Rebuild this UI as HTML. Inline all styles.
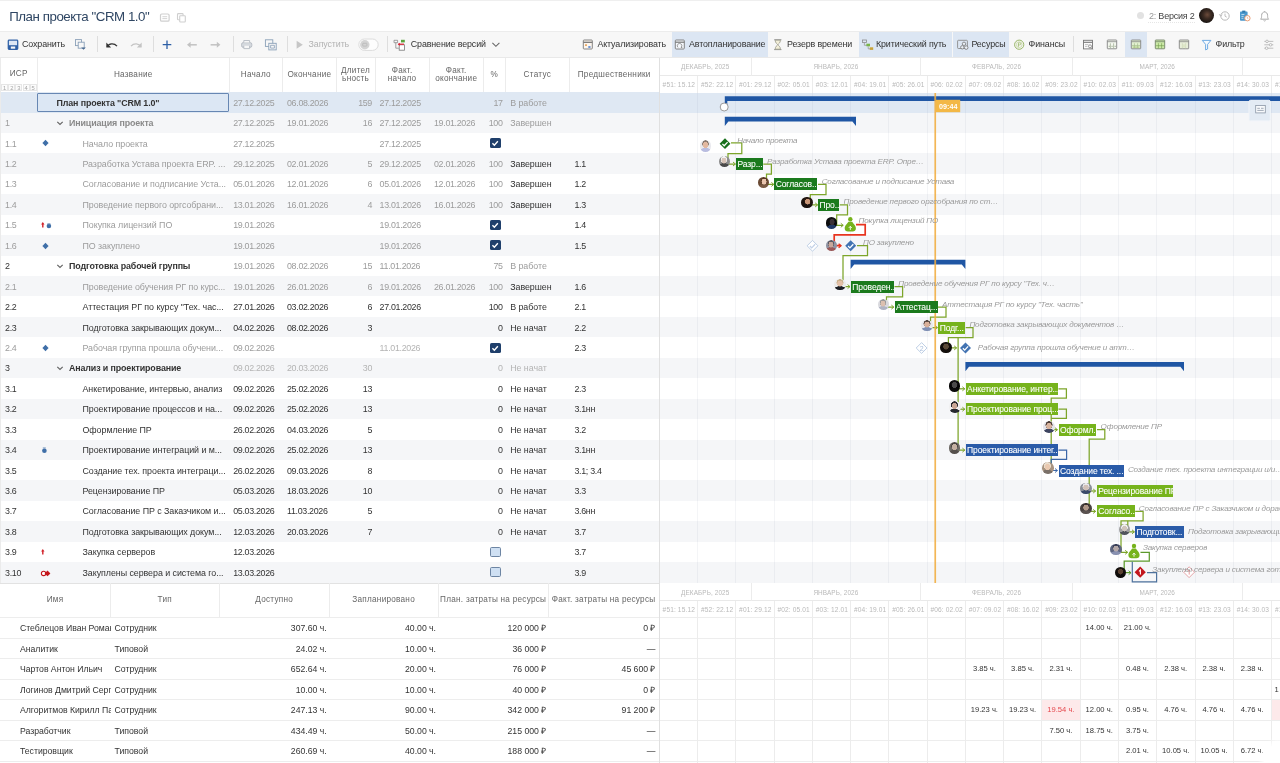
<!DOCTYPE html><html lang="ru"><head><meta charset="utf-8"><title>План проекта "CRM 1.0"</title><style>
*{box-sizing:border-box}
html,body{margin:0;padding:0}
body{width:1280px;height:763px;overflow:hidden;background:#fff;font-family:"Liberation Sans",sans-serif;color:#333;position:relative}
.abs{position:absolute}
.t{position:absolute;white-space:nowrap;line-height:1}
#title{left:9.2px;top:9.8px;font-size:13.3px;letter-spacing:-0.45px;color:#2f4663}
#toolbar{left:0;top:31px;width:1280px;height:26.5px;background:#f7f7f7;border-top:1px solid #ececec;border-bottom:1px solid #e9e9e9}
.tb{position:absolute;white-space:nowrap;font-size:8.9px;line-height:10px;top:39px;color:#333;letter-spacing:-0.12px}
.tbh{position:absolute;top:32px;height:25px;background:#dce6f3}
.sep{position:absolute;top:36px;height:16px;width:1px;background:#dedede}
.hd{position:absolute;font-size:8.2px;line-height:8.3px;color:#666;text-align:center;letter-spacing:0.25px;white-space:nowrap}
.vl{position:absolute;width:1px;background:#ececec}
.row{position:absolute;left:0;width:1280px;height:20.5px}
.c{position:absolute;white-space:nowrap;font-size:8.9px;line-height:10px;letter-spacing:-0.05px}
.d{letter-spacing:-0.32px}
.p{letter-spacing:-0.3px}
.g{color:#999}
.k{color:#333}
.b{font-weight:700;letter-spacing:-0.12px}
.r{text-align:right}
.bar{position:absolute;height:12.1px;color:#fff;font-size:8.5px;line-height:12.3px;white-space:nowrap;overflow:hidden;padding-left:1.5px;letter-spacing:-0.1px;-webkit-text-stroke:0.08px #fff}
.lbl{position:absolute;white-space:nowrap;font-style:italic;font-size:8.1px;line-height:9px;color:#9a9a9a;letter-spacing:-0.18px;max-width:157px;overflow:hidden;text-overflow:ellipsis}
.wk{position:absolute;font-size:6.6px;line-height:8px;color:#b9b9b9;white-space:nowrap;letter-spacing:0.12px}
.mo{position:absolute;font-size:6.4px;line-height:8px;color:#b9b9b9;white-space:nowrap;text-align:center;letter-spacing:0.1px}
.av{position:absolute;width:11.6px;height:11.6px;border-radius:50%}
.rc{position:absolute;white-space:nowrap;font-size:8.7px;line-height:10px;color:#333;letter-spacing:-0.02px}
.rv{position:absolute;white-space:nowrap;font-size:7.6px;line-height:9px;color:#333;text-align:center;width:38px}
.cb{position:absolute;width:10.5px;height:10.2px;border-radius:1.6px}
</style></head><body>
<div class="abs" style="left:0;top:0;width:1280px;height:1px;background:#efefef"></div>
<div class="t" id="title">План проекта "CRM 1.0"</div>
<svg class="abs" style="left:158px;top:11.2px" width="32" height="14" viewBox="0 0 32 14">
<rect x="2.5" y="3" width="8.6" height="7.2" rx="1.3" fill="none" stroke="#cfcfcf" stroke-width="1.2"/><path d="M4.4 5.7h4.8M4.4 7.6h4.8" stroke="#cfcfcf" stroke-width="0.9"/>
<rect x="19.5" y="2.6" width="5.6" height="6.2" rx="0.8" fill="none" stroke="#cfcfcf" stroke-width="1.1"/><rect x="21.7" y="4.8" width="5.6" height="6.2" rx="0.8" fill="#fff" stroke="#cfcfcf" stroke-width="1.1"/></svg>
<div class="abs" style="left:1137px;top:12.2px;width:7px;height:7px;border-radius:50%;background:#e2e2e2"></div>
<div class="t" style="left:1149px;top:11.5px;font-size:9px;letter-spacing:-0.22px;color:#999">2: <span style="color:#444">Версия 2</span></div>
<div class="abs" style="left:1148px;top:22px;width:47px;height:0;border-top:1px dotted #e6e6e6"></div>
<div class="abs" style="left:1198.8px;top:8.2px;width:15px;height:15px;border-radius:50%;background:radial-gradient(circle at 55% 45%,#6b4a3a 0,#3a2a22 35%,#15110f 75%)"></div>
<svg class="abs" style="left:1216px;top:8px" width="60" height="16" viewBox="0 0 60 16">
<circle cx="9" cy="8" r="4.2" fill="none" stroke="#b9b9b9" stroke-width="1"/><path d="M9 5.6V8.2l1.8 1" fill="none" stroke="#b9b9b9" stroke-width="0.9"/><path d="M3.2 6.2l1.4 1.8 1.7-1.3" fill="none" stroke="#b9b9b9" stroke-width="0.9"/>
<rect x="24" y="3.6" width="7.6" height="9.2" rx="0.8" fill="#4a97cc"/><rect x="26.2" y="2.6" width="3.2" height="2" fill="#2f78ad"/><path d="M25.4 6.5h3M25.4 8.4h2.2M25.4 10.3h2" stroke="#cfe6f6" stroke-width="0.8"/><circle cx="31.4" cy="10.2" r="2.7" fill="#fff" stroke="#e8956a" stroke-width="0.9"/><path d="M31.4 8.8v1.5l1 .5" stroke="#e8956a" stroke-width="0.6" fill="none"/>
<path d="M44.6 11.2c1-1 1-2.2 1-3.8 0-2 1.3-3.4 3-3.4s3 1.400 3 3.400c0 1.600 0 2.800 1 3.800z" fill="none" stroke="#aaa" stroke-width="1"/><path d="M47.6 12.4c.2.800 1.800.8 2 0" stroke="#aaa" stroke-width="0.9" fill="none"/><path d="M48.600 3.900V3" stroke="#aaa" stroke-width="0.9"/></svg>
<div class="abs" id="toolbar"></div>
<div class="tbh" style="left:671.6px;width:96.5px"></div>
<div class="tbh" style="left:859px;width:92.9px"></div>
<div class="tbh" style="left:953.4px;width:55.3px"></div>
<div class="tbh" style="left:1125.4px;width:21.9px"></div>
<div class="sep" style="left:96.5px"></div>
<div class="sep" style="left:152.5px"></div>
<div class="sep" style="left:232.5px"></div>
<div class="sep" style="left:287.2px"></div>
<div class="sep" style="left:386.8px"></div>
<div class="sep" style="left:1073.4px"></div>
<div class="tb" style="left:22px">Сохранить</div>
<div class="tb" style="left:308.6px;color:#b3b3b3">Запустить</div>
<div class="tb" style="left:410.8px">Сравнение версий</div>
<div class="tb" style="left:597.4px">Актуализировать</div>
<div class="tb" style="left:689px">Автопланирование</div>
<div class="tb" style="left:787px">Резерв времени</div>
<div class="tb" style="left:876px">Критический путь</div>
<div class="tb" style="left:971.4px">Ресурсы</div>
<div class="tb" style="left:1028.6px">Финансы</div>
<div class="tb" style="left:1215.6px">Фильтр</div>
<svg class="abs" style="left:0;top:31px" width="1280" height="27" viewBox="0 31 1280 27">
<!-- save -->
<rect x="8.300" y="40.100" width="9.400" height="9.200" rx="0.800" fill="#dde7f5" stroke="#3464a8" stroke-width="1.300"/><rect x="8.300" y="45.200" width="9.400" height="4.100" fill="#2d5fa6"/><rect x="10.800" y="46.500" width="4.400" height="2.200" fill="#f7f7f7"/>
<!-- copy+ -->
<rect x="75.500" y="39.600" width="6" height="6" fill="none" stroke="#8aa0b8" stroke-width="0.900"/><rect x="78.200" y="42.200" width="6" height="6" fill="#f7f7f7" stroke="#8aa0b8" stroke-width="0.900"/><path d="M83.500 49.800l2.300-2.400h-4.600z" fill="#48688f"/>
<!-- undo -->
<path d="M107.200 46.700c1.600-3.400 6.800-4 9.800-.6" fill="none" stroke="#333" stroke-width="1.300"/><path d="M106.300 42.600v4.800h4.800z" fill="#333"/>
<!-- redo -->
<path d="M140.800 46.700c-1.600-3.400-6.800-4-9.800-.6" fill="none" stroke="#c4c4c4" stroke-width="1.300"/><path d="M141.700 42.600v4.800h-4.800z" fill="#c4c4c4"/>
<!-- plus -->
<path d="M162.700 44.700h8.600M167 40.400v8.600" stroke="#2d5fa6" stroke-width="1.300"/>
<!-- arrows -->
<path d="M188.800 44.800h8" stroke="#c2c2c2" stroke-width="1.500"/><path d="M187 44.800l3.600-3v6z" fill="#c2c2c2"/>
<path d="M210.600 44.800h8" stroke="#c2c2c2" stroke-width="1.500"/><path d="M220.400 44.800l-3.600-3v6z" fill="#c2c2c2"/>
<!-- print -->
<rect x="241.600" y="42.600" width="10.200" height="4.800" rx="1.600" fill="#d5d9de" stroke="#b4bac2" stroke-width="0.900"/><path d="M243.800 42.400v-1.900h5.800v1.900M243.800 45.800v2.800h5.800v-2.800" fill="#f7f7f7" stroke="#b4bac2" stroke-width="0.900"/>
<!-- windows -->
<rect x="265.400" y="39.800" width="7.400" height="6.600" fill="none" stroke="#8aa0b8" stroke-width="0.900"/><rect x="268.800" y="43.300" width="7.400" height="6.600" fill="#f7f7f7" stroke="#8aa0b8" stroke-width="0.900"/><path d="M270.600 45.300h3.800v2.800h-3.800z" fill="none" stroke="#8aa0b8" stroke-width="0.800"/>
<!-- play -->
<path d="M296.600 40.700l6.200 4-6.200 4z" fill="#c6c6c6"/>
<!-- toggle -->
<rect x="358.800" y="39" width="19.400" height="11.400" rx="5.700" fill="#fdfdfd" stroke="#dcdcdc" stroke-width="1"/><circle cx="364.800" cy="44.700" r="4.700" fill="#d4d4d4"/><rect x="362.700" y="43.300" width="4.200" height="2.800" rx="0.600" fill="none" stroke="#b5b5b5" stroke-width="0.700"/>
<!-- compare -->
<path d="M394 40.300h3.600v2.400h-3.600zM395.800 42.700v5.500h3" fill="none" stroke="#8a8a8a" stroke-width="0.800"/><rect x="399.200" y="44.800" width="5.200" height="5.400" fill="#fff" stroke="#777" stroke-width="0.800"/><rect x="401" y="39.800" width="3.800" height="2.600" fill="#5aa33c"/><path d="M398.400 44.200h5.600" stroke="#d23" stroke-width="1.200"/><path d="M397.700 44.200l2.100-1.500v3z" fill="#d23"/>
<!-- chevron -->
<path d="M492.400 42.900l3.500 3.400 3.500-3.400" fill="none" stroke="#666" stroke-width="1.100"/>
<!-- aktualizirovat -->
<rect x="583.300" y="40" width="9" height="9" rx="0.800" fill="#fdf6ee" stroke="#777" stroke-width="0.900"/><path d="M583.300 42.300h9" stroke="#777" stroke-width="1.300"/><rect x="585" y="44.300" width="2" height="1.600" fill="#e8a45a"/><rect x="588.300" y="46.200" width="2.200" height="1.600" fill="#4b7fd0"/>
<!-- autoplan -->
<rect x="675.300" y="40" width="9" height="9" rx="0.800" fill="#f4f7fb" stroke="#777" stroke-width="0.900"/><path d="M675.300 42.200h9" stroke="#777" stroke-width="1.200"/><path d="M678 47.400a2.300 2.300 0 1 1 3.600-.6" fill="none" stroke="#888" stroke-width="0.800"/><path d="M682.600 47.700l-1.800.2.300-1.800z" fill="#888"/>
<!-- hourglass -->
<path d="M774.200 39.800h7.200M774.200 49.600h7.200" stroke="#8a8a8a" stroke-width="1"/><path d="M775.200 40.200c0 3 2 3.400 2.600 4.500-.6 1.100-2.600 1.500-2.600 4.500h5.200c0-3-2-3.400-2.600-4.500.600-1.100 2.600-1.500 2.600-4.500z" fill="#f3efd8" stroke="#9a9a8a" stroke-width="0.800"/>
<!-- critical path -->
<rect x="862.600" y="40" width="3.800" height="2.400" fill="none" stroke="#8a8a8a" stroke-width="0.800"/><path d="M864.400 42.600v2.700h2.600" fill="none" stroke="#999" stroke-width="0.800"/><rect x="866.400" y="43.700" width="3.600" height="2.600" fill="#7ab648"/><path d="M868.200 46.400v2.400h2.200" fill="none" stroke="#999" stroke-width="0.800"/><rect x="869.800" y="47.300" width="3.400" height="2.600" fill="#c9a43a"/>
<!-- resources -->
<rect x="957.600" y="40.300" width="9.800" height="8.200" rx="0.800" fill="none" stroke="#8a8a8a" stroke-width="0.900"/><circle cx="964" cy="43.800" r="1.700" fill="#eaf0f7" stroke="#777" stroke-width="0.800"/><circle cx="962.300" cy="47.300" r="1.700" fill="#eaf0f7" stroke="#777" stroke-width="0.800"/><circle cx="966.200" cy="47.600" r="1.800" fill="#eaf0f7" stroke="#777" stroke-width="0.800"/>
<!-- finance -->
<circle cx="1019.200" cy="44.700" r="4.600" fill="#f6f8ee" stroke="#8fae5a" stroke-width="0.900"/><circle cx="1019.200" cy="44.700" r="2.900" fill="none" stroke="#b9c99a" stroke-width="0.600"/><path d="M1018.500 46.800v-4h1.300a1 1 0 0 1 0 2.100h-2" fill="none" stroke="#8fae5a" stroke-width="0.600"/>
<!-- view icons -->
<rect x="1083.500" y="40.300" width="9" height="8.600" fill="#fbfbfb" stroke="#777" stroke-width="0.900"/><path d="M1083.500 42.300h9" stroke="#777" stroke-width="1.100"/><path d="M1085 44.600h3.400M1085 46.400h2.400" stroke="#aaa" stroke-width="0.700"/><circle cx="1090" cy="46.300" r="1.500" fill="none" stroke="#777" stroke-width="0.700"/><path d="M1091.100 47.500l1.700 1.800" stroke="#777" stroke-width="0.800"/>
<rect x="1107.300" y="40" width="9.400" height="8.800" rx="0.600" fill="#f4f8ef" stroke="#858585" stroke-width="0.900"/><path d="M1107.300 41.700h9.400" stroke="#858585" stroke-width="0.800"/><path d="M1110.400 43.300v5M1113.600 43.300v5" stroke="#9aa88c" stroke-width="0.700"/><path d="M1108.800 46.300h0.800M1111.600 46.300h0.900M1114.700 46.300h0.900" stroke="#7a8a6c" stroke-width="1"/>
<rect x="1131.300" y="40" width="9.400" height="8.800" rx="0.600" fill="#e2f0cf" stroke="#858585" stroke-width="0.900"/><path d="M1131.300 41.700h9.400" stroke="#858585" stroke-width="0.800"/><path d="M1134.400 43.300v5M1137.600 43.300v5M1131.800 45.600h8.400" stroke="#a5bb8c" stroke-width="0.700"/><path d="M1132.600 47.100h6.800" stroke="#a9c77f" stroke-width="1"/>
<rect x="1155.300" y="40" width="9.400" height="8.800" rx="0.600" fill="#cdeaa8" stroke="#74856a" stroke-width="0.900"/><path d="M1155.300 41.700h9.400" stroke="#74856a" stroke-width="0.800"/><path d="M1158.400 43.200v5.200M1161.600 43.200v5.200M1155.800 45.700h8.400" stroke="#6f9a4a" stroke-width="0.600"/>
<rect x="1179.300" y="40" width="9.400" height="8.800" rx="0.600" fill="#e8eed9" stroke="#858585" stroke-width="0.900"/><path d="M1179.300 41.700h9.400" stroke="#858585" stroke-width="0.800"/><path d="M1182.400 43.300v5M1185.600 43.300v5" stroke="#cbd5b4" stroke-width="0.700"/><rect x="1182.800" y="44.400" width="2.600" height="3" fill="#dde6c6"/>
<!-- filter -->
<path d="M1202.300 40.400h8.600l-3.300 4v4.600l-2 .9v-5.500z" fill="#f6fafe" stroke="#62a3e0" stroke-width="0.900" stroke-linejoin="round"/>
<!-- settings -->
<path d="M1264.300 41.400h9M1264.300 44.800h9M1264.300 48.200h9" stroke="#b0b0b0" stroke-width="0.800"/><circle cx="1267" cy="41.400" r="1.300" fill="#f7f7f7" stroke="#aaa" stroke-width="0.700"/><circle cx="1270.600" cy="44.800" r="1.300" fill="#f7f7f7" stroke="#aaa" stroke-width="0.700"/><circle cx="1266.600" cy="48.200" r="1.300" fill="#f7f7f7" stroke="#aaa" stroke-width="0.700"/>
</svg>
<div class="abs" style="left:0;top:57.5px;width:659.5px;height:35.5px;background:#fff"></div>
<div class="vl" style="left:37.0px;top:58px;height:35px"></div>
<div class="vl" style="left:228.5px;top:58px;height:35px"></div>
<div class="vl" style="left:282.1px;top:58px;height:35px"></div>
<div class="vl" style="left:335.7px;top:58px;height:35px"></div>
<div class="vl" style="left:374.5px;top:58px;height:35px"></div>
<div class="vl" style="left:428.7px;top:58px;height:35px"></div>
<div class="vl" style="left:482.7px;top:58px;height:35px"></div>
<div class="vl" style="left:504.9px;top:58px;height:35px"></div>
<div class="vl" style="left:568.7px;top:58px;height:35px"></div>
<div class="vl" style="left:658.7px;top:58px;height:35px"></div>
<div class="hd" style="left:0px;width:37.5px;top:70.2px">ИСР</div>
<div class="hd" style="left:37.5px;width:191.5px;top:71px">Название</div>
<div class="hd" style="left:229px;width:53.6px;top:71px">Начало</div>
<div class="hd" style="left:282.6px;width:53.6px;top:71px">Окончание</div>
<div class="hd" style="left:336.2px;width:38.8px;top:66.8px">Длител<br>ьность</div>
<div class="hd" style="left:375px;width:54.2px;top:66.8px">Факт.<br>начало</div>
<div class="hd" style="left:429.2px;width:54.0px;top:66.8px">Факт.<br>окончание</div>
<div class="hd" style="left:483.2px;width:22.2px;top:71px">%</div>
<div class="hd" style="left:505.4px;width:63.8px;top:71px">Статус</div>
<div class="hd" style="left:569.2px;width:90.0px;top:71px">Предшественники</div>
<div class="abs" style="left:1.2px;top:83.7px;width:7.1px;height:7.6px;border:0.8px solid #e6e6e6;background:#fcfcfc;font-size:5.8px;line-height:6.2px;text-align:center;color:#a5a5a5">1</div>
<div class="abs" style="left:8.3px;top:83.7px;width:7.1px;height:7.6px;border:0.8px solid #e6e6e6;background:#fcfcfc;font-size:5.8px;line-height:6.2px;text-align:center;color:#a5a5a5">2</div>
<div class="abs" style="left:15.4px;top:83.7px;width:7.1px;height:7.6px;border:0.8px solid #e6e6e6;background:#fcfcfc;font-size:5.8px;line-height:6.2px;text-align:center;color:#a5a5a5">3</div>
<div class="abs" style="left:22.5px;top:83.7px;width:7.1px;height:7.6px;border:0.8px solid #e6e6e6;background:#fcfcfc;font-size:5.8px;line-height:6.2px;text-align:center;color:#a5a5a5">4</div>
<div class="abs" style="left:29.6px;top:83.7px;width:7.1px;height:7.6px;border:0.8px solid #e6e6e6;background:#fcfcfc;font-size:5.8px;line-height:6.2px;text-align:center;color:#a5a5a5">5</div>
<div class="row" style="top:92.1px;background:#dfe8f3"></div>
<div class="row" style="top:112.5px;background:#f5f6f8"></div>
<div class="row" style="top:133.0px;background:#fff"></div>
<div class="row" style="top:153.4px;background:#f5f6f8"></div>
<div class="row" style="top:173.8px;background:#fff"></div>
<div class="row" style="top:194.3px;background:#f5f6f8"></div>
<div class="row" style="top:214.7px;background:#fff"></div>
<div class="row" style="top:235.1px;background:#f5f6f8"></div>
<div class="row" style="top:255.6px;background:#fff"></div>
<div class="row" style="top:276.0px;background:#f5f6f8"></div>
<div class="row" style="top:296.4px;background:#fff"></div>
<div class="row" style="top:316.9px;background:#f5f6f8"></div>
<div class="row" style="top:337.3px;background:#fff"></div>
<div class="row" style="top:357.8px;background:#f5f6f8"></div>
<div class="row" style="top:378.2px;background:#fff"></div>
<div class="row" style="top:398.6px;background:#f5f6f8"></div>
<div class="row" style="top:419.1px;background:#fff"></div>
<div class="row" style="top:439.5px;background:#f5f6f8"></div>
<div class="row" style="top:459.9px;background:#fff"></div>
<div class="row" style="top:480.4px;background:#f5f6f8"></div>
<div class="row" style="top:500.8px;background:#fff"></div>
<div class="row" style="top:521.2px;background:#f5f6f8"></div>
<div class="row" style="top:541.7px;background:#fff"></div>
<div class="row" style="top:562.1px;background:#f5f6f8"></div>
<div class="abs" style="left:37px;top:92.6px;width:192px;height:19.6px;border:1px solid #6787b3;background:#dce7f4;border-radius:1px"></div>
<div class="c b" style="left:56.5px;top:97.7px;color:#333;">План проекта "CRM 1.0"</div>
<div class="c d" style="left:233.2px;top:97.7px;color:#9c9c9c;">27.12.2025</div>
<div class="c d" style="left:287.0px;top:97.7px;color:#9c9c9c;">06.08.2026</div>
<div class="c d" style="right:908.0px;top:97.7px;color:#9c9c9c;">159</div>
<div class="c d" style="left:379.6px;top:97.7px;color:#9c9c9c;">27.12.2025</div>
<div class="c d" style="right:777.4px;top:97.7px;color:#9c9c9c;">17</div>
<div class="c " style="left:510.2px;top:97.7px;color:#9c9c9c;">В работе</div>
<div class="c p" style="left:5.0px;top:118.1px;color:#9c9c9c;">1</div>
<div class="c b" style="left:69.0px;top:118.1px;color:#8a8a8a;">Инициация проекта</div>
<svg class="abs" style="left:56px;top:119.5px" width="8" height="7" viewBox="0 0 8 7"><path d="M1.300 1.800l2.700 2.700 2.700-2.700" fill="none" stroke="#666" stroke-width="1.200"/></svg>
<div class="c d" style="left:233.2px;top:118.1px;color:#9c9c9c;">27.12.2025</div>
<div class="c d" style="left:287.0px;top:118.1px;color:#9c9c9c;">19.01.2026</div>
<div class="c d" style="right:908.0px;top:118.1px;color:#9c9c9c;">16</div>
<div class="c d" style="left:379.6px;top:118.1px;color:#9c9c9c;">27.12.2025</div>
<div class="c d" style="left:434.0px;top:118.1px;color:#9c9c9c;">19.01.2026</div>
<div class="c d" style="right:777.4px;top:118.1px;color:#9c9c9c;">100</div>
<div class="c " style="left:510.2px;top:118.1px;color:#9c9c9c;">Завершен</div>
<div class="c p" style="left:5.0px;top:138.6px;color:#9c9c9c;">1.1</div>
<div class="c " style="left:82.5px;top:138.6px;color:#9c9c9c;">Начало проекта</div>
<svg class="abs" style="left:41px;top:139.4px" width="9" height="8" viewBox="0 0 9 8"><path d="M4.500 0.800l3.100 3.200-3.100 3.200-3.100-3.200z" fill="#3f6fa8"/></svg>
<div class="c d" style="left:233.2px;top:138.6px;color:#9c9c9c;">27.12.2025</div>
<div class="c d" style="left:379.6px;top:138.6px;color:#9c9c9c;">27.12.2025</div>
<div class="cb" style="left:490.2px;top:138.2px;background:#1f3f6b"></div>
<svg class="abs" style="left:490.2px;top:138.2px" width="10.2" height="10.2" viewBox="0 0 9.6 9.6"><path d="M2.300 5l1.800 1.800 3.300-3.800" fill="none" stroke="#fff" stroke-width="1.300"/></svg>
<div class="c p" style="left:5.0px;top:159.0px;color:#9c9c9c;">1.2</div>
<div class="c " style="left:82.5px;top:159.0px;color:#9c9c9c;">Разработка Устава проекта ERP. ...</div>
<div class="c d" style="left:233.2px;top:159.0px;color:#9c9c9c;">29.12.2025</div>
<div class="c d" style="left:287.0px;top:159.0px;color:#9c9c9c;">02.01.2026</div>
<div class="c d" style="right:908.0px;top:159.0px;color:#9c9c9c;">5</div>
<div class="c d" style="left:379.6px;top:159.0px;color:#9c9c9c;">29.12.2025</div>
<div class="c d" style="left:434.0px;top:159.0px;color:#9c9c9c;">02.01.2026</div>
<div class="c d" style="right:777.4px;top:159.0px;color:#9c9c9c;">100</div>
<div class="c " style="left:510.2px;top:159.0px;color:#333;">Завершен</div>
<div class="c p" style="left:574.4px;top:159.0px;color:#333;">1.1</div>
<div class="c p" style="left:5.0px;top:179.4px;color:#9c9c9c;">1.3</div>
<div class="c " style="left:82.5px;top:179.4px;color:#9c9c9c;">Согласование и подписание Уста...</div>
<div class="c d" style="left:233.2px;top:179.4px;color:#9c9c9c;">05.01.2026</div>
<div class="c d" style="left:287.0px;top:179.4px;color:#9c9c9c;">12.01.2026</div>
<div class="c d" style="right:908.0px;top:179.4px;color:#9c9c9c;">6</div>
<div class="c d" style="left:379.6px;top:179.4px;color:#9c9c9c;">05.01.2026</div>
<div class="c d" style="left:434.0px;top:179.4px;color:#9c9c9c;">12.01.2026</div>
<div class="c d" style="right:777.4px;top:179.4px;color:#9c9c9c;">100</div>
<div class="c " style="left:510.2px;top:179.4px;color:#333;">Завершен</div>
<div class="c p" style="left:574.4px;top:179.4px;color:#333;">1.2</div>
<div class="c p" style="left:5.0px;top:199.9px;color:#9c9c9c;">1.4</div>
<div class="c " style="left:82.5px;top:199.9px;color:#9c9c9c;">Проведение первого оргсобрани...</div>
<div class="c d" style="left:233.2px;top:199.9px;color:#9c9c9c;">13.01.2026</div>
<div class="c d" style="left:287.0px;top:199.9px;color:#9c9c9c;">16.01.2026</div>
<div class="c d" style="right:908.0px;top:199.9px;color:#9c9c9c;">4</div>
<div class="c d" style="left:379.6px;top:199.9px;color:#9c9c9c;">13.01.2026</div>
<div class="c d" style="left:434.0px;top:199.9px;color:#9c9c9c;">16.01.2026</div>
<div class="c d" style="right:777.4px;top:199.9px;color:#9c9c9c;">100</div>
<div class="c " style="left:510.2px;top:199.9px;color:#333;">Завершен</div>
<div class="c p" style="left:574.4px;top:199.9px;color:#333;">1.3</div>
<div class="c p" style="left:5.0px;top:220.3px;color:#9c9c9c;">1.5</div>
<div class="c " style="left:82.5px;top:220.3px;color:#9c9c9c;">Покупка лицензий ПО</div>
<svg class="abs" style="left:40px;top:221.1px" width="12" height="9" viewBox="0 0 12 9"><path d="M2.800 1l1.700 2.400h-1v3h-1.400v-3h-1z" fill="#d2232a"/><circle cx="8.900" cy="5" r="2.300" fill="#3f6fa8"/><rect x="7.400" y="2" width="3" height="1.200" fill="#9db4d0"/></svg>
<div class="c d" style="left:233.2px;top:220.3px;color:#9c9c9c;">19.01.2026</div>
<div class="c d" style="left:379.6px;top:220.3px;color:#9c9c9c;">19.01.2026</div>
<div class="cb" style="left:490.2px;top:219.9px;background:#1f3f6b"></div>
<svg class="abs" style="left:490.2px;top:219.9px" width="10.2" height="10.2" viewBox="0 0 9.6 9.6"><path d="M2.300 5l1.800 1.800 3.300-3.800" fill="none" stroke="#fff" stroke-width="1.300"/></svg>
<div class="c p" style="left:574.4px;top:220.3px;color:#333;">1.4</div>
<div class="c p" style="left:5.0px;top:240.7px;color:#9c9c9c;">1.6</div>
<div class="c " style="left:82.5px;top:240.7px;color:#9c9c9c;">ПО закуплено</div>
<svg class="abs" style="left:41px;top:241.5px" width="9" height="8" viewBox="0 0 9 8"><path d="M4.500 0.800l3.100 3.200-3.100 3.200-3.100-3.200z" fill="#3f6fa8"/></svg>
<div class="c d" style="left:233.2px;top:240.7px;color:#9c9c9c;">19.01.2026</div>
<div class="c d" style="left:379.6px;top:240.7px;color:#9c9c9c;">19.01.2026</div>
<div class="cb" style="left:490.2px;top:240.3px;background:#1f3f6b"></div>
<svg class="abs" style="left:490.2px;top:240.3px" width="10.2" height="10.2" viewBox="0 0 9.6 9.6"><path d="M2.300 5l1.800 1.800 3.300-3.800" fill="none" stroke="#fff" stroke-width="1.300"/></svg>
<div class="c p" style="left:574.4px;top:240.7px;color:#333;">1.5</div>
<div class="c p" style="left:5.0px;top:261.2px;color:#333;">2</div>
<div class="c b" style="left:69.0px;top:261.2px;color:#333;">Подготовка рабочей группы</div>
<svg class="abs" style="left:56px;top:262.6px" width="8" height="7" viewBox="0 0 8 7"><path d="M1.300 1.800l2.700 2.700 2.700-2.700" fill="none" stroke="#666" stroke-width="1.200"/></svg>
<div class="c d" style="left:233.2px;top:261.2px;color:#9c9c9c;">19.01.2026</div>
<div class="c d" style="left:287.0px;top:261.2px;color:#9c9c9c;">08.02.2026</div>
<div class="c d" style="right:908.0px;top:261.2px;color:#9c9c9c;">15</div>
<div class="c d" style="left:379.6px;top:261.2px;color:#9c9c9c;">11.01.2026</div>
<div class="c d" style="right:777.4px;top:261.2px;color:#9c9c9c;">75</div>
<div class="c " style="left:510.2px;top:261.2px;color:#9c9c9c;">В работе</div>
<div class="c p" style="left:5.0px;top:281.6px;color:#9c9c9c;">2.1</div>
<div class="c " style="left:82.5px;top:281.6px;color:#9c9c9c;">Проведение обучения РГ по курс...</div>
<div class="c d" style="left:233.2px;top:281.6px;color:#9c9c9c;">19.01.2026</div>
<div class="c d" style="left:287.0px;top:281.6px;color:#9c9c9c;">26.01.2026</div>
<div class="c d" style="right:908.0px;top:281.6px;color:#9c9c9c;">6</div>
<div class="c d" style="left:379.6px;top:281.6px;color:#9c9c9c;">19.01.2026</div>
<div class="c d" style="left:434.0px;top:281.6px;color:#9c9c9c;">26.01.2026</div>
<div class="c d" style="right:777.4px;top:281.6px;color:#9c9c9c;">100</div>
<div class="c " style="left:510.2px;top:281.6px;color:#333;">Завершен</div>
<div class="c p" style="left:574.4px;top:281.6px;color:#333;">1.6</div>
<div class="c p" style="left:5.0px;top:302.1px;color:#333;">2.2</div>
<div class="c " style="left:82.5px;top:302.1px;color:#333;">Аттестация РГ по курсу "Тех. час...</div>
<div class="c d" style="left:233.2px;top:302.1px;color:#333;">27.01.2026</div>
<div class="c d" style="left:287.0px;top:302.1px;color:#333;">03.02.2026</div>
<div class="c d" style="right:908.0px;top:302.1px;color:#333;">6</div>
<div class="c d" style="left:379.6px;top:302.1px;color:#333;">27.01.2026</div>
<div class="c d" style="right:777.4px;top:302.1px;color:#333;">100</div>
<div class="c " style="left:510.2px;top:302.1px;color:#333;">В работе</div>
<div class="c p" style="left:574.4px;top:302.1px;color:#333;">2.1</div>
<div class="c p" style="left:5.0px;top:322.5px;color:#333;">2.3</div>
<div class="c " style="left:82.5px;top:322.5px;color:#333;">Подготовка закрывающих докум...</div>
<div class="c d" style="left:233.2px;top:322.5px;color:#333;">04.02.2026</div>
<div class="c d" style="left:287.0px;top:322.5px;color:#333;">08.02.2026</div>
<div class="c d" style="right:908.0px;top:322.5px;color:#333;">3</div>
<div class="c d" style="right:777.4px;top:322.5px;color:#333;">0</div>
<div class="c " style="left:510.2px;top:322.5px;color:#333;">Не начат</div>
<div class="c p" style="left:574.4px;top:322.5px;color:#333;">2.2</div>
<div class="c p" style="left:5.0px;top:342.9px;color:#9c9c9c;">2.4</div>
<div class="c " style="left:82.5px;top:342.9px;color:#9c9c9c;">Рабочая группа прошла обучени...</div>
<svg class="abs" style="left:41px;top:343.7px" width="9" height="8" viewBox="0 0 9 8"><path d="M4.500 0.800l3.100 3.200-3.100 3.200-3.100-3.200z" fill="#3f6fa8"/></svg>
<div class="c d" style="left:233.2px;top:342.9px;color:#9c9c9c;">09.02.2026</div>
<div class="c d" style="left:379.6px;top:342.9px;color:#b4b4b4;">11.01.2026</div>
<div class="cb" style="left:490.2px;top:342.5px;background:#1f3f6b"></div>
<svg class="abs" style="left:490.2px;top:342.5px" width="10.2" height="10.2" viewBox="0 0 9.6 9.6"><path d="M2.300 5l1.800 1.800 3.300-3.800" fill="none" stroke="#fff" stroke-width="1.300"/></svg>
<div class="c p" style="left:574.4px;top:342.9px;color:#333;">2.3</div>
<div class="c p" style="left:5.0px;top:363.4px;color:#333;">3</div>
<div class="c b" style="left:69.0px;top:363.4px;color:#333;">Анализ и проектирование</div>
<svg class="abs" style="left:56px;top:364.8px" width="8" height="7" viewBox="0 0 8 7"><path d="M1.300 1.800l2.700 2.700 2.700-2.700" fill="none" stroke="#666" stroke-width="1.200"/></svg>
<div class="c d" style="left:233.2px;top:363.4px;color:#b4b4b4;">09.02.2026</div>
<div class="c d" style="left:287.0px;top:363.4px;color:#b4b4b4;">20.03.2026</div>
<div class="c d" style="right:908.0px;top:363.4px;color:#b4b4b4;">30</div>
<div class="c d" style="right:777.4px;top:363.4px;color:#b4b4b4;">0</div>
<div class="c " style="left:510.2px;top:363.4px;color:#b4b4b4;">Не начат</div>
<div class="c p" style="left:5.0px;top:383.8px;color:#333;">3.1</div>
<div class="c " style="left:82.5px;top:383.8px;color:#333;">Анкетирование, интервью, анализ</div>
<div class="c d" style="left:233.2px;top:383.8px;color:#333;">09.02.2026</div>
<div class="c d" style="left:287.0px;top:383.8px;color:#333;">25.02.2026</div>
<div class="c d" style="right:908.0px;top:383.8px;color:#333;">13</div>
<div class="c d" style="right:777.4px;top:383.8px;color:#333;">0</div>
<div class="c " style="left:510.2px;top:383.8px;color:#333;">Не начат</div>
<div class="c p" style="left:574.4px;top:383.8px;color:#333;">2.3</div>
<div class="c p" style="left:5.0px;top:404.2px;color:#333;">3.2</div>
<div class="c " style="left:82.5px;top:404.2px;color:#333;">Проектирование процессов и на...</div>
<div class="c d" style="left:233.2px;top:404.2px;color:#333;">09.02.2026</div>
<div class="c d" style="left:287.0px;top:404.2px;color:#333;">25.02.2026</div>
<div class="c d" style="right:908.0px;top:404.2px;color:#333;">13</div>
<div class="c d" style="right:777.4px;top:404.2px;color:#333;">0</div>
<div class="c " style="left:510.2px;top:404.2px;color:#333;">Не начат</div>
<div class="c p" style="left:574.4px;top:404.2px;color:#333;">3.1нн</div>
<div class="c p" style="left:5.0px;top:424.7px;color:#333;">3.3</div>
<div class="c " style="left:82.5px;top:424.7px;color:#333;">Оформление ПР</div>
<div class="c d" style="left:233.2px;top:424.7px;color:#333;">26.02.2026</div>
<div class="c d" style="left:287.0px;top:424.7px;color:#333;">04.03.2026</div>
<div class="c d" style="right:908.0px;top:424.7px;color:#333;">5</div>
<div class="c d" style="right:777.4px;top:424.7px;color:#333;">0</div>
<div class="c " style="left:510.2px;top:424.7px;color:#333;">Не начат</div>
<div class="c p" style="left:574.4px;top:424.7px;color:#333;">3.2</div>
<div class="c p" style="left:5.0px;top:445.1px;color:#333;">3.4</div>
<div class="c " style="left:82.5px;top:445.1px;color:#333;">Проектирование интеграций и м...</div>
<svg class="abs" style="left:40px;top:445.9px" width="9" height="9" viewBox="0 0 9 9"><rect x="2.800" y="1.200" width="3" height="1.400" fill="#9db4d0"/><circle cx="4.400" cy="4.800" r="2.300" fill="#3f6fa8"/></svg>
<div class="c d" style="left:233.2px;top:445.1px;color:#333;">09.02.2026</div>
<div class="c d" style="left:287.0px;top:445.1px;color:#333;">25.02.2026</div>
<div class="c d" style="right:908.0px;top:445.1px;color:#333;">13</div>
<div class="c d" style="right:777.4px;top:445.1px;color:#333;">0</div>
<div class="c " style="left:510.2px;top:445.1px;color:#333;">Не начат</div>
<div class="c p" style="left:574.4px;top:445.1px;color:#333;">3.1нн</div>
<div class="c p" style="left:5.0px;top:465.5px;color:#333;">3.5</div>
<div class="c " style="left:82.5px;top:465.5px;color:#333;">Создание тех. проекта интеграци...</div>
<div class="c d" style="left:233.2px;top:465.5px;color:#333;">26.02.2026</div>
<div class="c d" style="left:287.0px;top:465.5px;color:#333;">09.03.2026</div>
<div class="c d" style="right:908.0px;top:465.5px;color:#333;">8</div>
<div class="c d" style="right:777.4px;top:465.5px;color:#333;">0</div>
<div class="c " style="left:510.2px;top:465.5px;color:#333;">Не начат</div>
<div class="c p" style="left:574.4px;top:465.5px;color:#333;">3.1; 3.4</div>
<div class="c p" style="left:5.0px;top:486.0px;color:#333;">3.6</div>
<div class="c " style="left:82.5px;top:486.0px;color:#333;">Рецензирование ПР</div>
<div class="c d" style="left:233.2px;top:486.0px;color:#333;">05.03.2026</div>
<div class="c d" style="left:287.0px;top:486.0px;color:#333;">18.03.2026</div>
<div class="c d" style="right:908.0px;top:486.0px;color:#333;">10</div>
<div class="c d" style="right:777.4px;top:486.0px;color:#333;">0</div>
<div class="c " style="left:510.2px;top:486.0px;color:#333;">Не начат</div>
<div class="c p" style="left:574.4px;top:486.0px;color:#333;">3.3</div>
<div class="c p" style="left:5.0px;top:506.4px;color:#333;">3.7</div>
<div class="c " style="left:82.5px;top:506.4px;color:#333;">Согласование ПР с Заказчиком и...</div>
<div class="c d" style="left:233.2px;top:506.4px;color:#333;">05.03.2026</div>
<div class="c d" style="left:287.0px;top:506.4px;color:#333;">11.03.2026</div>
<div class="c d" style="right:908.0px;top:506.4px;color:#333;">5</div>
<div class="c d" style="right:777.4px;top:506.4px;color:#333;">0</div>
<div class="c " style="left:510.2px;top:506.4px;color:#333;">Не начат</div>
<div class="c p" style="left:574.4px;top:506.4px;color:#333;">3.6нн</div>
<div class="c p" style="left:5.0px;top:526.8px;color:#333;">3.8</div>
<div class="c " style="left:82.5px;top:526.8px;color:#333;">Подготовка закрывающих докум...</div>
<div class="c d" style="left:233.2px;top:526.8px;color:#333;">12.03.2026</div>
<div class="c d" style="left:287.0px;top:526.8px;color:#333;">20.03.2026</div>
<div class="c d" style="right:908.0px;top:526.8px;color:#333;">7</div>
<div class="c d" style="right:777.4px;top:526.8px;color:#333;">0</div>
<div class="c " style="left:510.2px;top:526.8px;color:#333;">Не начат</div>
<div class="c p" style="left:574.4px;top:526.8px;color:#333;">3.7</div>
<div class="c p" style="left:5.0px;top:547.3px;color:#333;">3.9</div>
<div class="c " style="left:82.5px;top:547.3px;color:#333;">Закупка серверов</div>
<svg class="abs" style="left:40px;top:548.1px" width="12" height="9" viewBox="0 0 12 9"><path d="M2.800 1l1.700 2.400h-1v3h-1.400v-3h-1z" fill="#d2232a"/></svg>
<div class="c d" style="left:233.2px;top:547.3px;color:#333;">12.03.2026</div>
<div class="cb" style="left:490.2px;top:546.9px;background:#cfe0f3;border:1px solid #6d85a3"></div>
<div class="c p" style="left:574.4px;top:547.3px;color:#333;">3.7</div>
<div class="c p" style="left:5.0px;top:567.7px;color:#333;">3.10</div>
<div class="c " style="left:82.5px;top:567.7px;color:#333;">Закуплены сервера и система го...</div>
<svg class="abs" style="left:40px;top:568.5px" width="12" height="9" viewBox="0 0 12 9"><circle cx="3.600" cy="4.400" r="2.200" fill="#fff" stroke="#c4161c" stroke-width="1.100"/><path d="M7.500 1.500l2.900 2.900-2.900 2.900-2.900-2.900z" fill="#c4161c"/></svg>
<div class="c d" style="left:233.2px;top:567.7px;color:#333;">13.03.2026</div>
<div class="cb" style="left:490.2px;top:567.3px;background:#cfe0f3;border:1px solid #6d85a3"></div>
<div class="c p" style="left:574.4px;top:567.7px;color:#333;">3.9</div>
<div class="vl" style="left:659px;top:57.5px;height:706px;background:#e3e3e3"></div>
<div class="vl" style="left:0px;top:57.5px;height:706px;background:#ebebeb"></div>
<div class="abs" style="left:659.5px;top:57.5px;width:621px;height:35.5px;background:#fff"></div>
<div class="abs" style="left:659.5px;top:75.0px;width:621px;height:1px;background:#e9e9e9"></div>
<div class="mo" style="left:659.2px;width:92.1px;top:63.3px">ДЕКАБРЬ, 2025</div>
<div class="vl" style="left:750.8px;top:57.5px;height:18px"></div>
<div class="mo" style="left:751.3px;width:169.2px;top:63.3px">ЯНВАРЬ, 2026</div>
<div class="vl" style="left:920.0px;top:57.5px;height:18px"></div>
<div class="mo" style="left:920.5px;width:152.0px;top:63.3px">ФЕВРАЛЬ, 2026</div>
<div class="vl" style="left:1072.0px;top:57.5px;height:18px"></div>
<div class="mo" style="left:1072.5px;width:169.5px;top:63.3px">МАРТ, 2026</div>
<div class="vl" style="left:1241.5px;top:57.5px;height:18px"></div>
<div class="wk" style="left:662.6px;top:80.5px">#51: 15.12</div>
<div class="vl" style="left:697.0px;top:75.5px;height:17.5px"></div>
<div class="wk" style="left:700.9px;top:80.5px">#52: 22.12</div>
<div class="vl" style="left:735.2px;top:75.5px;height:17.5px"></div>
<div class="wk" style="left:739.1px;top:80.5px">#01: 29.12</div>
<div class="vl" style="left:773.5px;top:75.5px;height:17.5px"></div>
<div class="wk" style="left:777.4px;top:80.5px">#02: 05.01</div>
<div class="vl" style="left:811.8px;top:75.5px;height:17.5px"></div>
<div class="wk" style="left:815.7px;top:80.5px">#03: 12.01</div>
<div class="vl" style="left:850.1px;top:75.5px;height:17.5px"></div>
<div class="wk" style="left:854.0px;top:80.5px">#04: 19.01</div>
<div class="vl" style="left:888.3px;top:75.5px;height:17.5px"></div>
<div class="wk" style="left:892.2px;top:80.5px">#05: 26.01</div>
<div class="vl" style="left:926.6px;top:75.5px;height:17.5px"></div>
<div class="wk" style="left:930.5px;top:80.5px">#06: 02.02</div>
<div class="vl" style="left:964.9px;top:75.5px;height:17.5px"></div>
<div class="wk" style="left:968.8px;top:80.5px">#07: 09.02</div>
<div class="vl" style="left:1003.1px;top:75.5px;height:17.5px"></div>
<div class="wk" style="left:1007.0px;top:80.5px">#08: 16.02</div>
<div class="vl" style="left:1041.4px;top:75.5px;height:17.5px"></div>
<div class="wk" style="left:1045.3px;top:80.5px">#09: 23.02</div>
<div class="vl" style="left:1079.7px;top:75.5px;height:17.5px"></div>
<div class="wk" style="left:1083.6px;top:80.5px">#10: 02.03</div>
<div class="vl" style="left:1117.9px;top:75.5px;height:17.5px"></div>
<div class="wk" style="left:1121.8px;top:80.5px">#11: 09.03</div>
<div class="vl" style="left:1156.2px;top:75.5px;height:17.5px"></div>
<div class="wk" style="left:1160.1px;top:80.5px">#12: 16.03</div>
<div class="vl" style="left:1194.5px;top:75.5px;height:17.5px"></div>
<div class="wk" style="left:1198.4px;top:80.5px">#13: 23.03</div>
<div class="vl" style="left:1232.8px;top:75.5px;height:17.5px"></div>
<div class="wk" style="left:1236.7px;top:80.5px">#14: 30.03</div>
<div class="vl" style="left:1271.0px;top:75.5px;height:17.5px"></div>
<div class="wk" style="left:1274.9px;top:80.5px">#15: 06.04</div>
<div class="vl" style="left:697.0px;top:93px;height:490px;background:rgba(120,130,150,0.08)"></div>
<div class="vl" style="left:735.2px;top:93px;height:490px;background:rgba(120,130,150,0.08)"></div>
<div class="vl" style="left:773.5px;top:93px;height:490px;background:rgba(120,130,150,0.08)"></div>
<div class="vl" style="left:811.8px;top:93px;height:490px;background:rgba(120,130,150,0.08)"></div>
<div class="vl" style="left:850.1px;top:93px;height:490px;background:rgba(120,130,150,0.08)"></div>
<div class="vl" style="left:888.3px;top:93px;height:490px;background:rgba(120,130,150,0.08)"></div>
<div class="vl" style="left:926.6px;top:93px;height:490px;background:rgba(120,130,150,0.08)"></div>
<div class="vl" style="left:964.9px;top:93px;height:490px;background:rgba(120,130,150,0.08)"></div>
<div class="vl" style="left:1003.1px;top:93px;height:490px;background:rgba(120,130,150,0.08)"></div>
<div class="vl" style="left:1041.4px;top:93px;height:490px;background:rgba(120,130,150,0.08)"></div>
<div class="vl" style="left:1079.7px;top:93px;height:490px;background:rgba(120,130,150,0.08)"></div>
<div class="vl" style="left:1117.9px;top:93px;height:490px;background:rgba(120,130,150,0.08)"></div>
<div class="vl" style="left:1156.2px;top:93px;height:490px;background:rgba(120,130,150,0.08)"></div>
<div class="vl" style="left:1194.5px;top:93px;height:490px;background:rgba(120,130,150,0.08)"></div>
<div class="vl" style="left:1232.8px;top:93px;height:490px;background:rgba(120,130,150,0.08)"></div>
<div class="vl" style="left:1271.0px;top:93px;height:490px;background:rgba(120,130,150,0.08)"></div>

<svg class="abs" style="left:0;top:0" width="1280" height="763" viewBox="0 0 1280 763"><path d="M724.8 96.3H1281V100.9H727.3V106.3H724.8z" fill="#1f56a4"/>
<path d="M724.8 116.7H856.0V125.9L852.4 121.4H728.4L724.8 125.9z" fill="#1f56a4"/>
<path d="M850.6 259.8H965.4V269.0L961.8 264.5H854.2L850.6 269.0z" fill="#1f56a4"/>
<path d="M965.4 362.0H1184.0V371.2L1180.4 366.7H969.0L965.4 371.2z" fill="#1f56a4"/>
<circle cx="724.2" cy="107" r="4" fill="#fff" stroke="#9a9a9a" stroke-width="1"/>
<path d="M731.0 142.8 L741.8 142.8 L741.8 153.6 L728.0 153.6 L728.0 164.0 L735.4 164.0" fill="none" stroke="#7da52a" stroke-width="1.25" stroke-linejoin="miter"/>
<path d="M733.0 162.0L735.4 164.0L733.0 166.0" fill="none" stroke="#7da52a" stroke-width="1.00"/>
<path d="M763.3 164.0 L771.4 164.0 L771.4 174.0 L766.5 174.0 L766.5 184.4 L773.8 184.4" fill="none" stroke="#7da52a" stroke-width="1.25" stroke-linejoin="miter"/>
<path d="M771.4 182.4L773.8 184.4L771.4 186.4" fill="none" stroke="#7da52a" stroke-width="1.00"/>
<path d="M818.0 184.4 L826.0 184.4 L826.0 194.5 L810.3 194.5 L810.3 204.9 L817.6 204.9" fill="none" stroke="#7da52a" stroke-width="1.25" stroke-linejoin="miter"/>
<path d="M815.2 202.9L817.6 204.9L815.2 206.9" fill="none" stroke="#7da52a" stroke-width="1.00"/>
<path d="M839.8 204.9 L847.5 204.9 L847.5 214.8 L836.7 214.8 L836.7 225.3 L843.2 225.3" fill="none" stroke="#7da52a" stroke-width="1.25" stroke-linejoin="miter"/>
<path d="M840.8 223.3L843.2 225.3L840.8 227.3" fill="none" stroke="#7da52a" stroke-width="1.00"/>
<path d="M856.0 224.7 L865.2 224.7 L865.2 234.8 L834.2 234.8 L834.2 245.7 L841.0 245.7" fill="none" stroke="#e8351f" stroke-width="1.7" stroke-linejoin="miter"/>
<path d="M838.6 243.7L841.0 245.7L838.6 247.7" fill="none" stroke="#e8351f" stroke-width="1.36"/>
<path d="M857.0 245.7 L867.5 245.7 L867.5 255.6 L843.0 255.6 L843.0 286.6 L850.0 286.6" fill="none" stroke="#7da52a" stroke-width="1.25" stroke-linejoin="miter"/>
<path d="M847.6 284.6L850.0 286.6L847.6 288.6" fill="none" stroke="#7da52a" stroke-width="1.00"/>
<path d="M894.5 286.6 L902.6 286.6 L902.6 296.8 L886.5 296.8 L886.5 307.1 L893.8 307.1" fill="none" stroke="#7da52a" stroke-width="1.25" stroke-linejoin="miter"/>
<path d="M891.4 305.1L893.8 307.1L891.4 309.1" fill="none" stroke="#7da52a" stroke-width="1.00"/>
<path d="M938.0 307.1 L946.0 307.1 L946.0 317.2 L930.5 317.2 L930.5 327.5 L937.4 327.5" fill="none" stroke="#7da52a" stroke-width="1.25" stroke-linejoin="miter"/>
<path d="M935.0 325.5L937.4 327.5L935.0 329.5" fill="none" stroke="#7da52a" stroke-width="1.00"/>
<path d="M965.7 327.5 L973.0 327.5 L973.0 337.7 L948.4 337.7 L948.4 347.9 L956.6 347.9" fill="none" stroke="#7da52a" stroke-width="1.25" stroke-linejoin="miter"/>
<path d="M954.2 345.9L956.6 347.9L954.2 349.9" fill="none" stroke="#7da52a" stroke-width="1.00"/>
<path d="M958.1 337.7 L958.1 450.1 L964.8 450.1" fill="none" stroke="#7da52a" stroke-width="1.25" stroke-linejoin="miter"/>
<path d="M962.4 448.1L964.8 450.1L962.4 452.1" fill="none" stroke="#7da52a" stroke-width="1.00"/>
<path d="M958.1 388.8 L964.8 388.8" fill="none" stroke="#7da52a" stroke-width="1.25" stroke-linejoin="miter"/>
<path d="M962.4 386.8L964.8 388.8L962.4 390.8" fill="none" stroke="#7da52a" stroke-width="1.00"/>
<path d="M958.1 409.2 L964.8 409.2" fill="none" stroke="#7da52a" stroke-width="1.25" stroke-linejoin="miter"/>
<path d="M962.4 407.2L964.8 409.2L962.4 411.2" fill="none" stroke="#7da52a" stroke-width="1.00"/>
<path d="M1058.5 388.8 L1066.4 388.8 L1066.4 398.0 L1051.2 398.0 L1051.2 429.7 L1057.4 429.7" fill="none" stroke="#7da52a" stroke-width="1.25" stroke-linejoin="miter"/>
<path d="M1055.0 427.7L1057.4 429.7L1055.0 431.7" fill="none" stroke="#7da52a" stroke-width="1.00"/>
<path d="M1058.5 409.2 L1066.4 409.2 L1066.4 418.4 L1051.2 418.4" fill="none" stroke="#7da52a" stroke-width="1.25" stroke-linejoin="miter"/>
<path d="M1051.2 429.7 L1051.2 466.5" fill="none" stroke="#7da52a" stroke-width="1.25" stroke-linejoin="miter"/>
<path d="M1097.0 429.7 L1104.8 429.7 L1104.8 439.0 L1089.2 439.0 L1089.2 511.4 L1095.6 511.4" fill="none" stroke="#7da52a" stroke-width="1.25" stroke-linejoin="miter"/>
<path d="M1093.2 509.4L1095.6 511.4L1093.2 513.4" fill="none" stroke="#7da52a" stroke-width="1.00"/>
<path d="M1089.2 491.0 L1095.6 491.0" fill="none" stroke="#7da52a" stroke-width="1.25" stroke-linejoin="miter"/>
<path d="M1093.2 489.0L1095.6 491.0L1093.2 493.0" fill="none" stroke="#7da52a" stroke-width="1.00"/>
<path d="M1058.5 450.1 L1066.6 450.1 L1066.6 459.3 L1051.2 459.3 L1051.2 470.5 L1057.4 470.5" fill="none" stroke="#3a66a8" stroke-width="1.2" stroke-linejoin="miter"/>
<path d="M1055.0 468.5L1057.4 470.5L1055.0 472.5" fill="none" stroke="#3a66a8" stroke-width="0.96"/>
<path d="M1135.2 511.4 L1143.1 511.4 L1143.1 520.8 L1121.0 520.8 L1121.0 552.3 L1127.6 552.3" fill="none" stroke="#7da52a" stroke-width="1.25" stroke-linejoin="miter"/>
<path d="M1125.2 550.3L1127.6 552.3L1125.2 554.3" fill="none" stroke="#7da52a" stroke-width="1.00"/>
<path d="M1127.8 520.8 L1127.8 531.8 L1134.4 531.8" fill="none" stroke="#7da52a" stroke-width="1.25" stroke-linejoin="miter"/>
<path d="M1132.0 529.8L1134.4 531.8L1132.0 533.8" fill="none" stroke="#7da52a" stroke-width="1.00"/>
<path d="M1121.0 525.0 L1127.8 525.0" fill="none" stroke="#7da52a" stroke-width="1" stroke-linejoin="miter"/>
<path d="M1140.5 552.3 L1149.3 552.3 L1149.3 561.2 L1124.2 561.2 L1124.2 572.7 L1131.0 572.7" fill="none" stroke="#5c9a2c" stroke-width="1.25" stroke-linejoin="miter"/>
<path d="M1128.6 570.7L1131.0 572.7L1128.6 574.7" fill="none" stroke="#5c9a2c" stroke-width="1.00"/>
<path d="M1147.0 572.7 L1156.6 572.7 L1156.6 581.8 L1132.3 581.8 L1132.3 561.8" fill="none" stroke="#4d719c" stroke-width="1.2" stroke-linejoin="miter"/>
<path d="M725.0 138.3L730.4 143.7L725.0 149.1L719.6 143.7z" fill="#17701b"/>
<path d="M722.4 143.9l1.800 1.900 3.400-3.700" fill="none" stroke="#fff" stroke-width="1.300"/>
<path d="M850.7 240.3L856.2 245.8L850.7 251.3L845.2 245.8z" fill="#4273b2"/>
<path d="M848.1 246.0l1.800 1.900 3.400-3.700" fill="none" stroke="#fff" stroke-width="1.300"/>
<path d="M812.5 240.4L817.9 245.8L812.5 251.2L807.1 245.8z" fill="#fff" stroke="#b7c9e2" stroke-width="0.9"/>
<path d="M809.9 246.0l1.800 1.900 3.400-3.700" fill="none" stroke="#c5d3e8" stroke-width="1.300"/>
<path d="M965.5 342.5L971.0 348.0L965.5 353.5L960.0 348.0z" fill="#4273b2"/>
<path d="M962.9 348.2l1.800 1.900 3.400-3.700" fill="none" stroke="#fff" stroke-width="1.300"/>
<path d="M921.6 342.6L927.0 348.0L921.6 353.4L916.2 348.0z" fill="#fff" stroke="#b7c9e2" stroke-width="0.9"/>
<text x="921.6" y="350.6" font-size="7" fill="#a9bedb" text-anchor="middle" font-family="Liberation Sans, sans-serif">2</text>
<path d="M1140.2 566.6L1145.8 572.2L1140.2 577.8L1134.6 572.2z" fill="#c2161c"/>
<path d="M1139 571.300l1.400-1.300v4.600" fill="none" stroke="#fff" stroke-width="1.100"/>
<path d="M1189.1 566.8L1194.5 572.2L1189.1 577.6L1183.7 572.2z" fill="#fff" stroke="#e29a9d" stroke-width="0.9"/>
<path d="M1187.700 571.300l1.500-1.300v4.600" fill="none" stroke="#e58f92" stroke-width="0.900"/>
<circle cx="850.3" cy="219.2" r="2.200" fill="#76b31c"/>
<path d="M848.4 221.7h3.800c0.600 1.600 3.700 3.400 3.700 6.600 0 2.200-1.400 3.100-3.200 3.100h-4.800c-1.800 0-3.200-0.900-3.200-3.100 0-3.200 3.100-5 3.700-6.600z" fill="#76b31c"/>
<path d="M850.3 229.9v-3.400M848.8 227.9l1.500-1.600 1.500 1.600" fill="none" stroke="#fff" stroke-width="0.900"/>
<circle cx="1134.0" cy="546.0" r="2.200" fill="#76b31c"/>
<path d="M1132.1 548.5h3.800c0.600 1.600 3.700 3.400 3.700 6.600 0 2.200-1.400 3.100-3.200 3.100h-4.800c-1.800 0-3.200-0.900-3.200-3.100 0-3.200 3.100-5 3.700-6.600z" fill="#76b31c"/>
<path d="M1134.0 556.7v-3.400M1132.5 554.7l1.500-1.600 1.500 1.600" fill="none" stroke="#fff" stroke-width="0.900"/>
<rect x="934" y="93" width="2.400" height="490" fill="#f6c982" opacity="0.300"/><rect x="934.600" y="93" width="1.200" height="490" fill="#f0a836"/>
<rect x="935.800" y="99.800" width="24.400" height="12.400" fill="#f3b846"/>
<text x="948.200" y="108.600" font-size="7.200" font-weight="700" fill="#fff" text-anchor="middle" font-family="Liberation Sans, sans-serif">09:44</text>
<rect x="1249" y="100.300" width="21.300" height="20.600" rx="1.500" fill="#e3ebf4" stroke="#f2f5f9" stroke-width="1"/><rect x="1255.700" y="105.500" width="9.600" height="7.400" fill="#f8fafc" stroke="#8a96a6" stroke-width="0.800"/><path d="M1257.300 108.300h2.600M1261 108.300h2.600M1257.300 110.400h6.400" stroke="#8a96a6" stroke-width="0.800"/></svg>
<div class="av" style="left:699.5px;top:140.3px;background:radial-gradient(ellipse 24% 28% at 50% 42%,#e2b8a0 0 88%,transparent 100%),radial-gradient(ellipse 31% 33% at 50% 33%,#8a7a70 0 88%,transparent 100%),radial-gradient(ellipse 56% 36% at 50% 100%,#b9bde0 0 90%,transparent 100%),#e9e9ee"></div>
<div class="av" style="left:718.9px;top:155.6px;background:radial-gradient(ellipse 24% 28% at 45% 42%,#d8c4b8 0 88%,transparent 100%),radial-gradient(ellipse 31% 33% at 45% 33%,#f2f2f2 0 88%,transparent 100%),radial-gradient(ellipse 56% 36% at 45% 100%,#4a4a4a 0 90%,transparent 100%),#8d8d8d"></div>
<div class="av" style="left:757.8px;top:176.5px;background:radial-gradient(ellipse 24% 28% at 55% 42%,#e9c4ae 0 88%,transparent 100%),radial-gradient(ellipse 31% 33% at 55% 33%,#5a3a24 0 88%,transparent 100%),radial-gradient(ellipse 56% 36% at 55% 100%,#7a5a44 0 90%,transparent 100%),#6a4a34"></div>
<div class="av" style="left:801.2px;top:196.6px;background:radial-gradient(ellipse 24% 28% at 55% 42%,#c99678 0 88%,transparent 100%),radial-gradient(ellipse 31% 33% at 55% 33%,#2a1a12 0 88%,transparent 100%),radial-gradient(ellipse 56% 36% at 55% 100%,#1a1210 0 90%,transparent 100%),#1e1410"></div>
<div class="av" style="left:825.7px;top:217.2px;background:radial-gradient(ellipse 24% 28% at 55% 42%,#3c3238 0 88%,transparent 100%),radial-gradient(ellipse 31% 33% at 55% 33%,#111 0 88%,transparent 100%),radial-gradient(ellipse 56% 36% at 55% 100%,#223a66 0 90%,transparent 100%),#0c0c0e"></div>
<div class="av" style="left:825.7px;top:239.7px;background:radial-gradient(ellipse 24% 28% at 45% 42%,#c9a79a 0 88%,transparent 100%),radial-gradient(ellipse 31% 33% at 45% 33%,#5a5a64 0 88%,transparent 100%),radial-gradient(ellipse 56% 36% at 45% 100%,#9a5a5a 0 90%,transparent 100%),#8f93a3"></div>
<div class="av" style="left:834.4px;top:278.7px;background:radial-gradient(ellipse 24% 28% at 50% 42%,#e4c0a8 0 88%,transparent 100%),radial-gradient(ellipse 31% 33% at 50% 33%,#c9b08a 0 88%,transparent 100%),radial-gradient(ellipse 56% 36% at 50% 100%,#1c1e24 0 90%,transparent 100%),#ececec"></div>
<div class="av" style="left:877.6px;top:298.9px;background:radial-gradient(ellipse 24% 28% at 45% 42%,#dcc0b0 0 88%,transparent 100%),radial-gradient(ellipse 31% 33% at 45% 33%,#9a9a9a 0 88%,transparent 100%),radial-gradient(ellipse 56% 36% at 45% 100%,#b0b4c4 0 90%,transparent 100%),#d9d9de"></div>
<div class="av" style="left:921.2px;top:319.8px;background:radial-gradient(ellipse 24% 28% at 50% 42%,#d9b09a 0 88%,transparent 100%),radial-gradient(ellipse 31% 33% at 50% 33%,#5a4a44 0 88%,transparent 100%),radial-gradient(ellipse 56% 36% at 50% 100%,#7f8fb4 0 90%,transparent 100%),#e9e9ee"></div>
<div class="av" style="left:940.0px;top:341.7px;background:radial-gradient(ellipse 24% 28% at 50% 42%,#5a4a38 0 88%,transparent 100%),radial-gradient(ellipse 31% 33% at 50% 33%,#1a1612 0 88%,transparent 100%),radial-gradient(ellipse 56% 36% at 50% 100%,#14100c 0 90%,transparent 100%),#0e0c0a"></div>
<div class="av" style="left:948.7px;top:380.2px;background:radial-gradient(ellipse 24% 28% at 50% 42%,#4a4a4a 0 88%,transparent 100%),radial-gradient(ellipse 31% 33% at 50% 33%,#111 0 88%,transparent 100%),radial-gradient(ellipse 56% 36% at 50% 100%,#0a0a0a 0 90%,transparent 100%),#050505"></div>
<div class="av" style="left:949.0px;top:401.4px;background:radial-gradient(ellipse 24% 28% at 45% 42%,#c9a694 0 88%,transparent 100%),radial-gradient(ellipse 31% 33% at 45% 33%,#2a2a2e 0 88%,transparent 100%),radial-gradient(ellipse 56% 36% at 45% 100%,#26282e 0 90%,transparent 100%),#f0f0f0"></div>
<div class="av" style="left:1043.1px;top:421.2px;background:radial-gradient(ellipse 24% 28% at 50% 42%,#d9b49e 0 88%,transparent 100%),radial-gradient(ellipse 31% 33% at 50% 33%,#4a3a34 0 88%,transparent 100%),radial-gradient(ellipse 56% 36% at 50% 100%,#3e4460 0 90%,transparent 100%),#e4e4ea"></div>
<div class="av" style="left:948.7px;top:442.2px;background:radial-gradient(ellipse 24% 28% at 50% 42%,#c4b0a2 0 88%,transparent 100%),radial-gradient(ellipse 31% 33% at 50% 33%,#4a4642 0 88%,transparent 100%),radial-gradient(ellipse 56% 36% at 50% 100%,#55504c 0 90%,transparent 100%),#6e6a66"></div>
<div class="av" style="left:1042.2px;top:462.3px;background:radial-gradient(ellipse 24% 28% at 45% 42%,#eac9b0 0 88%,transparent 100%),radial-gradient(ellipse 31% 33% at 45% 33%,#e9dccc 0 88%,transparent 100%),radial-gradient(ellipse 56% 36% at 45% 100%,#7a7068 0 90%,transparent 100%),#a89480"></div>
<div class="av" style="left:1080.4px;top:482.5px;background:radial-gradient(ellipse 24% 28% at 50% 42%,#d0c0b8 0 88%,transparent 100%),radial-gradient(ellipse 31% 33% at 50% 33%,#e9e9ec 0 88%,transparent 100%),radial-gradient(ellipse 56% 36% at 50% 100%,#3a4a6a 0 90%,transparent 100%),#8a8e98"></div>
<div class="av" style="left:1080.4px;top:502.6px;background:radial-gradient(ellipse 24% 28% at 50% 42%,#b09888 0 88%,transparent 100%),radial-gradient(ellipse 31% 33% at 50% 33%,#3a3230 0 88%,transparent 100%),radial-gradient(ellipse 56% 36% at 50% 100%,#5a5250 0 90%,transparent 100%),#4a4240"></div>
<div class="av" style="left:1118.8px;top:523.6px;background:radial-gradient(ellipse 24% 28% at 50% 42%,#cfc4bc 0 88%,transparent 100%),radial-gradient(ellipse 31% 33% at 50% 33%,#f0f0f0 0 88%,transparent 100%),radial-gradient(ellipse 56% 36% at 50% 100%,#50545c 0 90%,transparent 100%),#a0a0a2"></div>
<div class="av" style="left:1110.2px;top:543.9px;background:radial-gradient(ellipse 24% 28% at 50% 42%,#b4a8a8 0 88%,transparent 100%),radial-gradient(ellipse 31% 33% at 50% 33%,#3a4058 0 88%,transparent 100%),radial-gradient(ellipse 56% 36% at 50% 100%,#8890b0 0 90%,transparent 100%),#5f6680"></div>
<div class="av" style="left:1114.6px;top:566.5px;background:radial-gradient(ellipse 24% 28% at 50% 42%,#5a4030 0 88%,transparent 100%),radial-gradient(ellipse 31% 33% at 50% 33%,#1a1410 0 88%,transparent 100%),radial-gradient(ellipse 56% 36% at 50% 100%,#0c0a08 0 90%,transparent 100%),#100c0a"></div>
<div class="bar" style="left:735.9px;top:158.0px;width:26.9px;background:#1b7a1d">Разр...</div>
<div class="lbl" style="left:767.1px;top:156.5px">Разработка Устава проекта ERP. Определение целей и границ</div>
<div class="bar" style="left:774.2px;top:178.4px;width:43.3px;background:#1b7a1d">Согласов...</div>
<div class="lbl" style="left:821.7px;top:176.9px">Согласование и подписание Устава</div>
<div class="bar" style="left:817.9px;top:198.9px;width:21.5px;background:#1b7a1d">Про...</div>
<div class="lbl" style="left:843.6px;top:197.4px">Проведение первого оргсобрания по старту проекта</div>
<div class="bar" style="left:850.8px;top:280.6px;width:43.3px;background:#1b7a1d">Проведен...</div>
<div class="lbl" style="left:898.3px;top:279.1px">Проведение обучения РГ по курсу "Тех. часть"</div>
<div class="bar" style="left:894.5px;top:301.1px;width:43.3px;background:#1b7a1d">Аттестац...</div>
<div class="lbl" style="left:942.0px;top:299.6px">Аттестация РГ по курсу "Тех. часть"</div>
<div class="bar" style="left:938.2px;top:321.5px;width:26.9px;background:#76b31c">Подг...</div>
<div class="lbl" style="left:969.4px;top:320.0px">Подготовка закрывающих документов по этапу</div>
<div class="bar" style="left:965.6px;top:382.8px;width:92.5px;background:#76b31c">Анкетирование, интер...</div>
<div class="bar" style="left:965.6px;top:403.2px;width:92.5px;background:#76b31c">Проектирование проц...</div>
<div class="bar" style="left:1058.5px;top:423.7px;width:37.9px;background:#76b31c">Оформл...</div>
<div class="lbl" style="left:1100.6px;top:422.2px">Оформление ПР</div>
<div class="bar" style="left:965.6px;top:444.1px;width:92.5px;background:#2a5ba8">Проектирование интег...</div>
<div class="bar" style="left:1058.5px;top:464.5px;width:65.2px;background:#2a5ba8">Создание тех. ...</div>
<div class="lbl" style="left:1127.9px;top:465.2px">Создание тех. проекта интеграции и/или миграции</div>
<div class="bar" style="left:1096.8px;top:485.0px;width:76.1px;background:#76b31c">Рецензирование ПР</div>
<div class="bar" style="left:1096.8px;top:505.4px;width:37.9px;background:#76b31c">Согласо...</div>
<div class="lbl" style="left:1138.8px;top:503.9px">Согласование ПР с Заказчиком и доработка</div>
<div class="bar" style="left:1135.0px;top:525.8px;width:48.8px;background:#2a5ba8">Подготовк...</div>
<div class="lbl" style="left:1188.0px;top:526.5px">Подготовка закрывающих документов по этапу</div>
<div class="lbl" style="left:737.2px;top:136.0px">Начало проекта</div>
<div class="lbl" style="left:858.5px;top:215.8px">Покупка лицензий ПО</div>
<div class="lbl" style="left:863.0px;top:238.1px">ПО закуплено</div>
<div class="lbl" style="left:977.8px;top:342.7px">Рабочая группа прошла обучение и аттестацию</div>
<div class="lbl" style="left:1143.0px;top:542.8px">Закупка серверов</div>
<div class="lbl" style="left:1152.3px;top:565.1px">Закуплены сервера и система готова к установке</div>
<div class="abs" style="left:0;top:583px;width:1280px;height:180px;background:#fff"></div>
<div class="abs" style="left:0;top:582.5px;width:1280px;height:1px;background:#e2e2e2"></div>
<div class="vl" style="left:109.6px;top:583px;height:34.5px"></div>
<div class="vl" style="left:218.8px;top:583px;height:34.5px"></div>
<div class="vl" style="left:328.5px;top:583px;height:34.5px"></div>
<div class="vl" style="left:437.8px;top:583px;height:34.5px"></div>
<div class="vl" style="left:547.5px;top:583px;height:34.5px"></div>
<div class="hd" style="left:0px;width:110.1px;top:596.4px">Имя</div>
<div class="hd" style="left:110.1px;width:109.2px;top:596.4px">Тип</div>
<div class="hd" style="left:219.3px;width:109.7px;top:596.4px">Доступно</div>
<div class="hd" style="left:329px;width:109.3px;top:596.4px">Запланировано</div>
<div class="hd" style="left:438.3px;width:109.7px;top:596.4px">План. затраты на ресурсы</div>
<div class="hd" style="left:548px;width:111.2px;top:596.4px">Факт. затраты на ресурсы</div>
<div class="abs" style="left:659.5px;top:583px;width:621px;height:34.8px;background:#fff"></div>
<div class="abs" style="left:659.5px;top:600.3px;width:621px;height:1px;background:#e9e9e9"></div>
<div class="mo" style="left:659.2px;width:92.1px;top:588.7px">ДЕКАБРЬ, 2025</div>
<div class="vl" style="left:750.8px;top:583px;height:17.8px"></div>
<div class="mo" style="left:751.3px;width:169.2px;top:588.7px">ЯНВАРЬ, 2026</div>
<div class="vl" style="left:920.0px;top:583px;height:17.8px"></div>
<div class="mo" style="left:920.5px;width:152.0px;top:588.7px">ФЕВРАЛЬ, 2026</div>
<div class="vl" style="left:1072.0px;top:583px;height:17.8px"></div>
<div class="mo" style="left:1072.5px;width:169.5px;top:588.7px">МАРТ, 2026</div>
<div class="vl" style="left:1241.5px;top:583px;height:17.8px"></div>
<div class="wk" style="left:662.6px;top:605.5px">#51: 15.12</div>
<div class="vl" style="left:697.0px;top:600.8px;height:17px"></div>
<div class="wk" style="left:700.9px;top:605.5px">#52: 22.12</div>
<div class="vl" style="left:735.2px;top:600.8px;height:17px"></div>
<div class="wk" style="left:739.1px;top:605.5px">#01: 29.12</div>
<div class="vl" style="left:773.5px;top:600.8px;height:17px"></div>
<div class="wk" style="left:777.4px;top:605.5px">#02: 05.01</div>
<div class="vl" style="left:811.8px;top:600.8px;height:17px"></div>
<div class="wk" style="left:815.7px;top:605.5px">#03: 12.01</div>
<div class="vl" style="left:850.1px;top:600.8px;height:17px"></div>
<div class="wk" style="left:854.0px;top:605.5px">#04: 19.01</div>
<div class="vl" style="left:888.3px;top:600.8px;height:17px"></div>
<div class="wk" style="left:892.2px;top:605.5px">#05: 26.01</div>
<div class="vl" style="left:926.6px;top:600.8px;height:17px"></div>
<div class="wk" style="left:930.5px;top:605.5px">#06: 02.02</div>
<div class="vl" style="left:964.9px;top:600.8px;height:17px"></div>
<div class="wk" style="left:968.8px;top:605.5px">#07: 09.02</div>
<div class="vl" style="left:1003.1px;top:600.8px;height:17px"></div>
<div class="wk" style="left:1007.0px;top:605.5px">#08: 16.02</div>
<div class="vl" style="left:1041.4px;top:600.8px;height:17px"></div>
<div class="wk" style="left:1045.3px;top:605.5px">#09: 23.02</div>
<div class="vl" style="left:1079.7px;top:600.8px;height:17px"></div>
<div class="wk" style="left:1083.6px;top:605.5px">#10: 02.03</div>
<div class="vl" style="left:1117.9px;top:600.8px;height:17px"></div>
<div class="wk" style="left:1121.8px;top:605.5px">#11: 09.03</div>
<div class="vl" style="left:1156.2px;top:600.8px;height:17px"></div>
<div class="wk" style="left:1160.1px;top:605.5px">#12: 16.03</div>
<div class="vl" style="left:1194.5px;top:600.8px;height:17px"></div>
<div class="wk" style="left:1198.4px;top:605.5px">#13: 23.03</div>
<div class="vl" style="left:1232.8px;top:600.8px;height:17px"></div>
<div class="wk" style="left:1236.7px;top:605.5px">#14: 30.03</div>
<div class="vl" style="left:1271.0px;top:600.8px;height:17px"></div>
<div class="wk" style="left:1274.9px;top:605.5px">#15: 06.04</div>
<div class="abs" style="left:0;top:617.0px;width:1280px;height:1px;background:#ededed"></div>
<div class="abs" style="left:0;top:637.5px;width:1280px;height:1px;background:#ededed"></div>
<div class="abs" style="left:0;top:658.0px;width:1280px;height:1px;background:#ededed"></div>
<div class="abs" style="left:0;top:678.5px;width:1280px;height:1px;background:#ededed"></div>
<div class="abs" style="left:0;top:699.0px;width:1280px;height:1px;background:#ededed"></div>
<div class="abs" style="left:0;top:719.5px;width:1280px;height:1px;background:#ededed"></div>
<div class="abs" style="left:0;top:740.0px;width:1280px;height:1px;background:#ededed"></div>
<div class="abs" style="left:0;top:760.5px;width:1280px;height:1px;background:#ededed"></div>
<div class="vl" style="left:697.0px;top:617.5px;height:146px;background:#ececec"></div>
<div class="vl" style="left:735.2px;top:617.5px;height:146px;background:#ececec"></div>
<div class="vl" style="left:773.5px;top:617.5px;height:146px;background:#ececec"></div>
<div class="vl" style="left:811.8px;top:617.5px;height:146px;background:#ececec"></div>
<div class="vl" style="left:850.1px;top:617.5px;height:146px;background:#ececec"></div>
<div class="vl" style="left:888.3px;top:617.5px;height:146px;background:#ececec"></div>
<div class="vl" style="left:926.6px;top:617.5px;height:146px;background:#ececec"></div>
<div class="vl" style="left:964.9px;top:617.5px;height:146px;background:#ececec"></div>
<div class="vl" style="left:1003.1px;top:617.5px;height:146px;background:#ececec"></div>
<div class="vl" style="left:1041.4px;top:617.5px;height:146px;background:#ececec"></div>
<div class="vl" style="left:1079.7px;top:617.5px;height:146px;background:#ececec"></div>
<div class="vl" style="left:1117.9px;top:617.5px;height:146px;background:#ececec"></div>
<div class="vl" style="left:1156.2px;top:617.5px;height:146px;background:#ececec"></div>
<div class="vl" style="left:1194.5px;top:617.5px;height:146px;background:#ececec"></div>
<div class="vl" style="left:1232.8px;top:617.5px;height:146px;background:#ececec"></div>
<div class="vl" style="left:1271.0px;top:617.5px;height:146px;background:#ececec"></div>
<div class="rc" style="left:20px;top:623.4px;width:91px;overflow:hidden">Стеблецов Иван Роман</div>
<div class="rc" style="left:114.6px;top:623.4px">Сотрудник</div>
<div class="rc" style="right:953.4px;top:623.4px">307.60 ч.</div>
<div class="rc" style="right:844.0px;top:623.4px">40.00 ч.</div>
<div class="rc" style="right:733.8px;top:623.4px">120 000 ₽</div>
<div class="rc" style="right:624.6px;top:623.4px">0 ₽</div>
<div class="rv" style="left:1080.2px;top:623.3px;">14.00 ч.</div>
<div class="rv" style="left:1118.4px;top:623.3px;">21.00 ч.</div>
<div class="rc" style="left:20px;top:643.9px;width:91px;overflow:hidden">Аналитик</div>
<div class="rc" style="left:114.6px;top:643.9px">Типовой</div>
<div class="rc" style="right:953.4px;top:643.9px">24.02 ч.</div>
<div class="rc" style="right:844.0px;top:643.9px">10.00 ч.</div>
<div class="rc" style="right:733.8px;top:643.9px">36 000 ₽</div>
<div class="rc" style="right:624.6px;top:643.9px">—</div>
<div class="rc" style="left:20px;top:664.4px;width:91px;overflow:hidden">Чартов Антон Ильич</div>
<div class="rc" style="left:114.6px;top:664.4px">Сотрудник</div>
<div class="rc" style="right:953.4px;top:664.4px">652.64 ч.</div>
<div class="rc" style="right:844.0px;top:664.4px">20.00 ч.</div>
<div class="rc" style="right:733.8px;top:664.4px">76 000 ₽</div>
<div class="rc" style="right:624.6px;top:664.4px">45 600 ₽</div>
<div class="rv" style="left:965.4px;top:664.3px;">3.85 ч.</div>
<div class="rv" style="left:1003.6px;top:664.3px;">3.85 ч.</div>
<div class="rv" style="left:1041.9px;top:664.3px;">2.31 ч.</div>
<div class="rv" style="left:1118.4px;top:664.3px;">0.48 ч.</div>
<div class="rv" style="left:1156.7px;top:664.3px;">2.38 ч.</div>
<div class="rv" style="left:1195.0px;top:664.3px;">2.38 ч.</div>
<div class="rv" style="left:1233.2px;top:664.3px;">2.38 ч.</div>
<div class="rc" style="left:20px;top:684.9px;width:91px;overflow:hidden">Логинов Дмитрий Серг</div>
<div class="rc" style="left:114.6px;top:684.9px">Сотрудник</div>
<div class="rc" style="right:953.4px;top:684.9px">10.00 ч.</div>
<div class="rc" style="right:844.0px;top:684.9px">10.00 ч.</div>
<div class="rc" style="right:733.8px;top:684.9px">40 000 ₽</div>
<div class="rc" style="right:624.6px;top:684.9px">0 ₽</div>
<div class="rc" style="left:20px;top:705.4px;width:91px;overflow:hidden">Алгоритмов Кирилл Па</div>
<div class="rc" style="left:114.6px;top:705.4px">Сотрудник</div>
<div class="rc" style="right:953.4px;top:705.4px">247.13 ч.</div>
<div class="rc" style="right:844.0px;top:705.4px">90.00 ч.</div>
<div class="rc" style="right:733.8px;top:705.4px">342 000 ₽</div>
<div class="rc" style="right:624.6px;top:705.4px">91 200 ₽</div>
<div class="rv" style="left:965.4px;top:705.3px;">19.23 ч.</div>
<div class="rv" style="left:1003.6px;top:705.3px;">19.23 ч.</div>
<div class="abs" style="left:1041.9px;top:699.5px;width:37.8px;height:20.0px;background:#fde9ea"></div>
<div class="rv" style="left:1041.9px;top:705.3px;color:#e5484d">19.54 ч.</div>
<div class="rv" style="left:1080.2px;top:705.3px;">12.00 ч.</div>
<div class="rv" style="left:1118.4px;top:705.3px;">0.95 ч.</div>
<div class="rv" style="left:1156.7px;top:705.3px;">4.76 ч.</div>
<div class="rv" style="left:1195.0px;top:705.3px;">4.76 ч.</div>
<div class="rv" style="left:1233.2px;top:705.3px;">4.76 ч.</div>
<div class="rc" style="left:20px;top:725.9px;width:91px;overflow:hidden">Разработчик</div>
<div class="rc" style="left:114.6px;top:725.9px">Типовой</div>
<div class="rc" style="right:953.4px;top:725.9px">434.49 ч.</div>
<div class="rc" style="right:844.0px;top:725.9px">50.00 ч.</div>
<div class="rc" style="right:733.8px;top:725.9px">215 000 ₽</div>
<div class="rc" style="right:624.6px;top:725.9px">—</div>
<div class="rv" style="left:1041.9px;top:725.8px;">7.50 ч.</div>
<div class="rv" style="left:1080.2px;top:725.8px;">18.75 ч.</div>
<div class="rv" style="left:1118.4px;top:725.8px;">3.75 ч.</div>
<div class="rc" style="left:20px;top:746.4px;width:91px;overflow:hidden">Тестировщик</div>
<div class="rc" style="left:114.6px;top:746.4px">Типовой</div>
<div class="rc" style="right:953.4px;top:746.4px">260.69 ч.</div>
<div class="rc" style="right:844.0px;top:746.4px">40.00 ч.</div>
<div class="rc" style="right:733.8px;top:746.4px">188 000 ₽</div>
<div class="rc" style="right:624.6px;top:746.4px">—</div>
<div class="rv" style="left:1118.4px;top:746.3px;">2.01 ч.</div>
<div class="rv" style="left:1156.7px;top:746.3px;">10.05 ч.</div>
<div class="rv" style="left:1195.0px;top:746.3px;">10.05 ч.</div>
<div class="rv" style="left:1233.2px;top:746.3px;">6.72 ч.</div>
<div class="rv" style="left:1274.5px;width:auto;top:685.2px">1</div>
<div class="abs" style="left:1271.700px;top:699.5px;width:9px;height:20.0px;background:#fde9ea"></div>
<div class="vl" style="left:659px;top:57.5px;height:706px;background:#e0e0e0"></div>
<div class="abs" style="left:1236px;top:719px;width:44px;height:44px;background:radial-gradient(ellipse 22px 27px at 100% 100%,#fff 0 70%,rgba(255,255,255,0) 100%)"></div>
</body></html>
